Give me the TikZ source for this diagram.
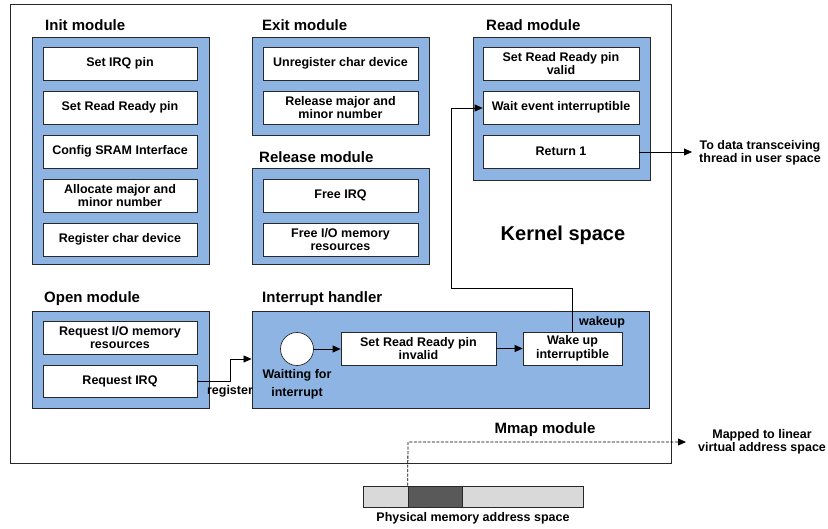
\documentclass[tikz,border=0pt]{standalone}
\usepackage{fontspec}
\setmainfont{Liberation Sans}
\usetikzlibrary{arrows.meta}
\definecolor{modblue}{RGB}{141,180,227}
\definecolor{edge}{RGB}{40,40,40}
\definecolor{memlight}{RGB}{217,217,217}
\definecolor{memdark}{RGB}{89,89,89}
\begin{document}
\begin{tikzpicture}[x=1pt,y=-1pt,
  modbox/.style={draw=edge,fill=modblue,line width=0.9pt,minimum width=177pt,inner sep=0pt},
  stepbox/.style={draw=edge,fill=white,line width=0.7pt,align=center,inner sep=0pt,minimum height=33pt,
     font=\fontsize{12.5}{13.5}\selectfont\bfseries},
  modtitle/.style={anchor=west,inner sep=0pt,font=\fontsize{15}{17}\selectfont\bfseries},
  lbl/.style={inner sep=0pt,align=center,font=\fontsize{12.5}{13.5}\selectfont\bfseries},
  conn/.style={draw=black,line width=0.8pt},
  tip/.style={-{Triangle[length=8pt,width=7pt]}}
]
\useasboundingbox (0,0) rectangle (828,529);
% kernel space
\node[draw=edge,line width=0.9pt,minimum width=661pt,minimum height=459pt,inner sep=0pt] (kernel) at (340.5,233.5) {};
\node[inner sep=0pt,font=\fontsize{20}{22}\selectfont\bfseries] (ktext) at (563,235) {Kernel space};

% Init module
\node[modtitle] (tinit) at (45,25) {Init module};
\node[modbox,minimum height=227pt] (init) at (120.5,150.5) {};
\node[stepbox,minimum width=154pt] (i1) at (120,63.5) {Set IRQ pin};
\node[stepbox,minimum width=154pt] (i2) at (120,107.5) {Set Read Ready pin};
\node[stepbox,minimum width=154pt] (i3) at (120,151.5) {Config SRAM Interface};
\node[stepbox,minimum width=154pt] (i4) at (120,195.5) {Allocate major and\\minor number};
\node[stepbox,minimum width=154pt] (i5) at (120,239.5) {Register char device};

% Exit module
\node[modtitle] (texit) at (262,25) {Exit module};
\node[modbox,minimum height=98pt] (exit) at (340.5,86) {};
\node[stepbox,minimum width=155pt] (e1) at (340.5,63.5) {Unregister char device};
\node[stepbox,minimum width=155pt] (e2) at (340.5,107.5) {Release major and\\minor number};

% Release module
\node[modtitle] (trel) at (259,157) {Release module};
\node[modbox,minimum height=96pt] (rel) at (340.5,216) {};
\node[stepbox,minimum width=155pt] (r1) at (340.5,195.5) {Free IRQ};
\node[stepbox,minimum width=155pt] (r2) at (340.5,239.5) {Free I/O memory\\resources};

% Read module
\node[modtitle] (tread) at (486,25) {Read module};
\node[modbox,minimum height=143pt] (read) at (561.5,108.5) {};
\node[stepbox,minimum width=156pt] (d1) at (561,63.5) {Set Read Ready pin\\valid};
\node[stepbox,minimum width=156pt] (d2) at (561,107.5) {Wait event interruptible};
\node[stepbox,minimum width=156pt] (d3) at (561,151.5) {Return 1};

% Open module
\node[modtitle] (topen) at (44,299) {Open module};
\node[modbox,minimum height=97pt] (open) at (120.5,359.5) {};
\node[stepbox,minimum width=154pt] (o1) at (120,337.5) {Request I/O memory\\resources};
\node[stepbox,minimum width=154pt,minimum height=32pt] (o2) at (120,381) {Request IRQ};

% Interrupt handler
\node[modtitle] (tint) at (262,299) {Interrupt handler};
\node[modbox,minimum width=397pt,minimum height=97pt] (inth) at (450.5,359.5) {};
\node[circle,draw=edge,fill=white,line width=0.7pt,minimum size=33pt,inner sep=0pt] (wait) at (297,349) {};
\node[lbl,font=\fontsize{12.5}{18}\selectfont\bfseries] (waittext) at (297,384) {Waitting for\\interrupt};
\node[stepbox,minimum width=155pt] (h1) at (418.5,348.5) {Set Read Ready pin\\invalid};
\node[stepbox,minimum width=99pt] (h2) at (572.5,348.5) {Wake up\\interruptible};
\node[lbl] (wk) at (602,322) {wakeup};

% Mmap
\node[inner sep=0pt,font=\fontsize{15}{17}\selectfont\bfseries] (tmmap) at (545,430) {Mmap module};
\node[draw=edge,fill=memlight,line width=0.7pt,minimum width=220pt,minimum height=21pt,inner sep=0pt] (mem) at (473,496.5) {};
\node[draw=edge,fill=memdark,line width=0.7pt,minimum width=54pt,minimum height=21pt,inner sep=0pt] (memseg) at (435,496.5) {};
\node[lbl] (memtext) at (473,518) {Physical memory address space};

% external labels
\node[lbl,anchor=west] (user) at (699,153) {To data transceiving\\thread in user space};
\node[lbl] (virt) at (762,442) {Mapped to linear\\virtual address space};
\node[lbl] (reglbl) at (230,391) {register};

% coordinates
\coordinate (uend) at (692,152);
\coordinate (vend) at (686,442);

% connectors
\draw[conn,tip] (d3.east |- 0,152) -- (uend);
\draw[conn,tip] (o2.east) -- (230,381) -- (230,359) -- (inth.west |- 0,359);
\draw[conn,tip] (wait.east) -- (h1.west |- wait.east);
\draw[conn,tip] (h1.east) -- (h2.west);
\draw[conn,tip] (h2.north) -- (572.5,288) -- (451,288) -- (451,108) -- (d2.west |- 0,108);
\draw[conn,dash pattern=on 3pt off 1.5pt,tip] (memseg.north west) -- (408,442) -- (vend);
\end{tikzpicture}
\end{document}
